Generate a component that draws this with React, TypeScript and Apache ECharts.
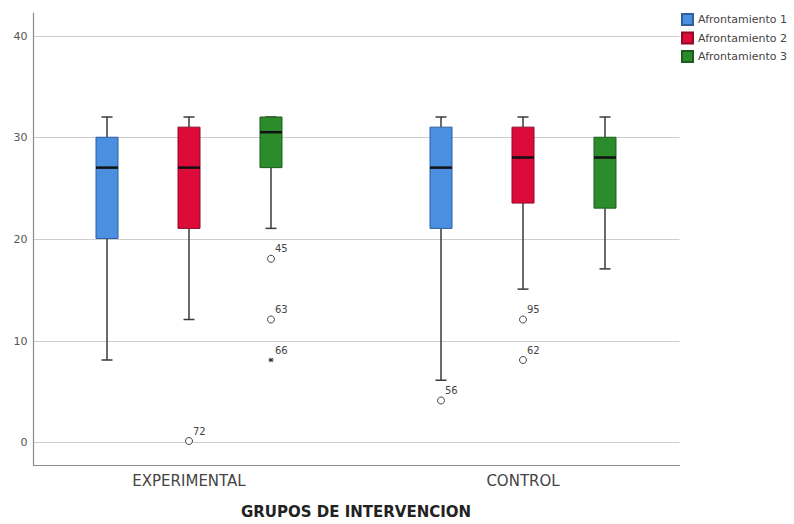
import React, { useEffect, useRef } from "react";
import * as echarts from "echarts";

const groups = ["EXPERIMENTAL", "CONTROL"];
const seriesNames = ["Afrontamiento 1", "Afrontamiento 2", "Afrontamiento 3"];
const axisTitle = "GRUPOS DE INTERVENCION";
const yMin = 0;
const yMax = 40;
const yStep = 10;

// [min, Q1, median, Q3, max] for each group
const afrontamiento1 = [
  [8, 20, 27, 30, 32],
  [6, 21, 27, 31, 32],
];
const afrontamiento2 = [
  [12, 21, 27, 31, 32],
  [15, 23.5, 28, 31, 32],
];
const afrontamiento3 = [
  [21, 27, 30.5, 32, 32],
  [17, 23, 28, 30, 32],
];

// outliers
const outlierGroup = [0, 0, 0, 0, 1, 1, 1];
const outlierSeries = [2, 2, 2, 1, 1, 1, 0];
const outlierValues = [18, 12, 8, 0, 12, 8, 4];
const outlierCases = ["45", "63", "66", "72", "95", "62", "56"];
const outlierExtreme = [0, 0, 1, 0, 0, 0, 0];

const fills = ["#4a8fe0", "#dc0b3a", "#2c8c2c"];
const borders = ["#2f5f9c", "#8e0b27", "#1d5c1d"];
const OFFSET = 0.2455;
const BOX_W = 22;
const FONT = "DejaVu Sans";

const boxData = [afrontamiento1, afrontamiento2, afrontamiento3];

function makeBoxRender(k: number) {
  return (params: any, api: any) => {
    const g = api.value(0);
    const bw = api.size([1, 0])[0];
    const cx = api.coord([g, 0])[0] + (k - 1) * OFFSET * bw;
    const y = (v: number) => api.coord([g, v])[1];
    const pMin = y(api.value(1));
    const pQ1 = y(api.value(2));
    const pMed = y(api.value(3));
    const pQ3 = y(api.value(4));
    const pMax = y(api.value(5));
    const half = BOX_W / 2;
    const cap = 5.5;
    const ls = { stroke: "#3a3a3a", lineWidth: 1.5 };
    return {
      type: "group",
      children: [
        { type: "line", shape: { x1: cx, y1: pMax, x2: cx, y2: pQ3 }, style: ls },
        { type: "line", shape: { x1: cx, y1: pQ1, x2: cx, y2: pMin }, style: ls },
        { type: "line", shape: { x1: cx - cap, y1: pMax, x2: cx + cap, y2: pMax }, style: ls },
        { type: "line", shape: { x1: cx - cap, y1: pMin, x2: cx + cap, y2: pMin }, style: ls },
        {
          type: "rect",
          shape: { x: cx - half, y: pQ3, width: BOX_W, height: pQ1 - pQ3 },
          style: { fill: fills[k], stroke: borders[k], lineWidth: 1 },
        },
        {
          type: "line",
          shape: { x1: cx - half, y1: pMed, x2: cx + half, y2: pMed },
          style: { stroke: "#111", lineWidth: 2.5 },
        },
      ],
    };
  };
}

function outlierRender(params: any, api: any) {
  const g = api.value(0);
  const s = api.value(1);
  const v = api.value(2);
  const ext = api.value(3);
  const bw = api.size([1, 0])[0];
  const p = api.coord([g, v]);
  const cx = p[0] + (s - 1) * OFFSET * bw;
  const cy = p[1];
  const children: any[] = [];
  if (ext) {
    const r = 2.5;
    const st = { stroke: "#333", lineWidth: 1.2 };
    children.push({ type: "line", shape: { x1: cx - r, y1: cy, x2: cx + r, y2: cy }, style: st });
    children.push({ type: "line", shape: { x1: cx - r * 0.6, y1: cy - r * 0.8, x2: cx + r * 0.6, y2: cy + r * 0.8 }, style: st });
    children.push({ type: "line", shape: { x1: cx + r * 0.6, y1: cy - r * 0.8, x2: cx - r * 0.6, y2: cy + r * 0.8 }, style: st });
  } else {
    children.push({
      type: "circle",
      shape: { cx, cy, r: 3.5 },
      style: { fill: "#fff", stroke: "#444", lineWidth: 1 },
    });
  }
  children.push({
    type: "text",
    x: cx + 4,
    y: cy - 10,
    style: {
      text: outlierCases[params.dataIndex],
      fill: "#444",
      fontSize: 10,
      fontFamily: FONT,
      verticalAlign: "middle",
      align: "left",
    },
  });
  return { type: "group", children };
}

export default function App() {
  const ref = useRef<HTMLDivElement>(null);
  useEffect(() => {
    if (!ref.current) return;
    const chart = echarts.init(ref.current, null, { renderer: "svg" });
    const plotTop = 36;
    const plotH = 406.7;
    const series: any[] = boxData.map((d, k) => ({
      name: seriesNames[k],
      type: "custom",
      xAxisIndex: 2,
      yAxisIndex: 2,
      itemStyle: { color: fills[k], borderColor: borders[k], borderWidth: 1 },
      encode: { x: 0, y: [1, 2, 3, 4, 5] },
      renderItem: makeBoxRender(k),
      data: d.map((row, i) => [i, ...row]),
    }));
    series.push({
      name: "outliers",
      type: "custom",
      xAxisIndex: 2,
      yAxisIndex: 2,
      encode: { x: 0, y: 2 },
      renderItem: outlierRender,
      data: outlierValues.map((v, i) => [outlierGroup[i], outlierSeries[i], v, outlierExtreme[i]]),
    });
    chart.setOption({
      animation: false,
      backgroundColor: "#fff",
      textStyle: { fontFamily: FONT },
      legend: {
        data: seriesNames,
        orient: "vertical",
        left: 681,
        top: 13,
        padding: 0,
        itemWidth: 11,
        itemHeight: 11,
        itemGap: 5.5,
        icon: "rect",
        textStyle: { fontSize: 11, color: "#444", fontFamily: FONT },
      },
      grid: [
        { left: 33.5, top: 13, width: 646, height: 452 },
        { left: 33.5, top: plotTop, width: 646, height: plotH },
        { left: 22, top: plotTop, width: 668, height: plotH },
      ],
      xAxis: [
        {
          gridIndex: 0,
          type: "value",
          min: 0,
          max: 1,
          axisLine: { show: true, onZero: false, lineStyle: { color: "#8c8c8c", width: 1.2 } },
          axisTick: { show: false },
          axisLabel: { show: false },
          splitLine: { show: false },
        },
        { gridIndex: 1, type: "value", min: 0, max: 1, show: false },
        {
          gridIndex: 2,
          type: "category",
          data: groups,
          axisLine: { show: false },
          axisTick: { show: false },
          axisLabel: { margin: 32, fontSize: 15, color: "#444", fontFamily: FONT },
          name: axisTitle,
          nameLocation: "middle",
          nameGap: 63,
          nameTextStyle: { fontSize: 15, fontWeight: "bold", color: "#222", fontFamily: FONT, verticalAlign: "top" },
        },
      ],
      yAxis: [
        {
          gridIndex: 0,
          type: "value",
          min: 0,
          max: 1,
          axisLine: { show: true, onZero: false, lineStyle: { color: "#8c8c8c", width: 1.2 } },
          axisTick: { show: false },
          axisLabel: { show: false },
          splitLine: { show: false },
        },
        {
          gridIndex: 1,
          type: "value",
          min: yMin,
          max: yMax,
          interval: yStep,
          axisLine: { show: false },
          axisTick: { show: false },
          axisLabel: { fontSize: 11, color: "#555", margin: 6, fontFamily: FONT },
          splitLine: { show: true, lineStyle: { color: "#cdcdcd", width: 1 } },
        },
        { gridIndex: 2, type: "value", min: yMin, max: yMax, show: false },
      ],
      series,
    });
    return () => chart.dispose();
  }, []);
  return (
    <div
      ref={ref}
      style={{ position: "fixed", left: 0, top: 0, width: 794, height: 524 }}
    />
  );
}
